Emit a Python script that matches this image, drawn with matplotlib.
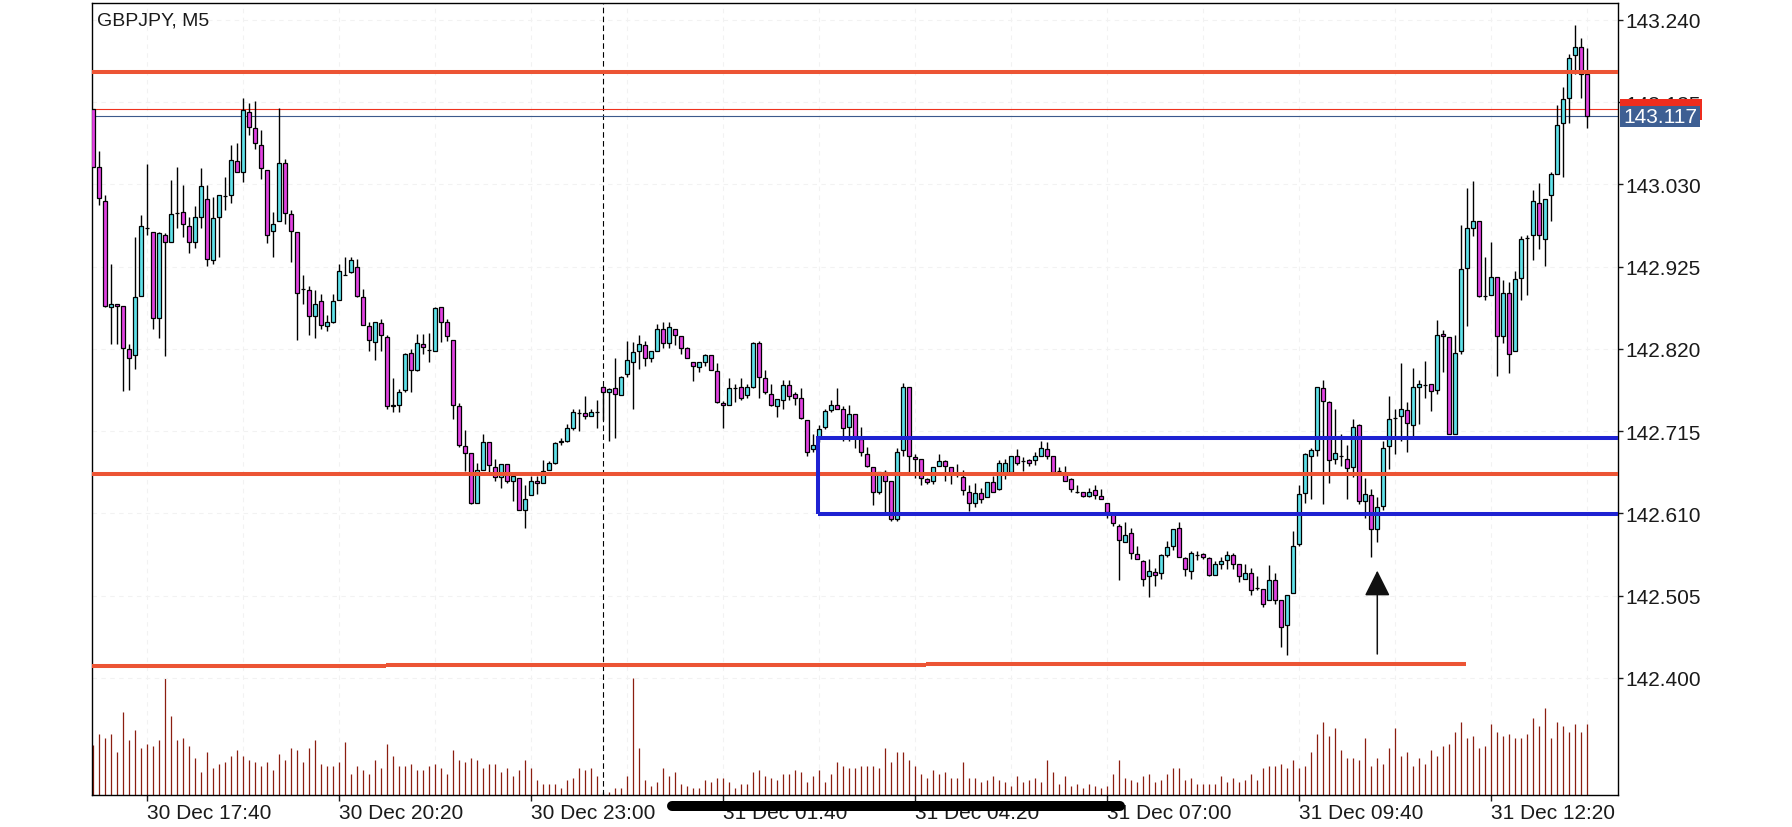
import numpy as np
import pandas as pd
import matplotlib
matplotlib.use("Agg")
import matplotlib.pyplot as plt
from matplotlib.patches import Rectangle
from matplotlib.lines import Line2D

plt.rcParams['font.family'] = ['Liberation Sans', 'DejaVu Sans']

# GBPJPY M5 candles (first bar 30 Dec 16:55)
opens = [
    143.126, 143.052, 143.009, 142.873, 142.877, 142.875, 142.820, 142.812, 142.887, 142.974,
    142.969, 142.859, 142.965, 142.956, 142.993, 142.995, 142.977, 142.957, 142.988, 143.012,
    142.933, 142.989, 143.015, 143.016, 143.060, 143.046, 143.122, 143.102, 143.080, 143.049,
    142.970, 142.984, 143.057, 142.992, 142.969, 142.897, 142.895, 142.862, 142.881, 142.849,
    142.854, 142.883, 142.915, 142.918, 142.925, 142.886, 142.849, 142.829, 142.853, 142.835,
    142.748, 142.749, 142.767, 142.815, 142.793, 142.826, 142.819, 142.818, 142.873, 142.854,
    142.832, 142.747, 142.696, 142.687, 142.624, 142.666, 142.701, 142.669, 142.656, 142.673,
    142.651, 142.655, 142.615, 142.633, 142.651, 142.649, 142.666, 142.675, 142.701, 142.702,
    142.719, 142.738, 142.738, 142.734, 142.739, 142.772, 142.765, 142.770, 142.761, 142.788,
    142.804, 142.818, 142.825, 142.808, 142.818, 142.845, 142.827, 142.845, 142.836, 142.821,
    142.803, 142.797, 142.804, 142.812, 142.792, 142.751, 142.748, 142.770, 142.772, 142.761,
    142.772, 142.827, 142.783, 142.763, 142.747, 142.755, 142.774, 142.762, 142.757, 142.729,
    142.692, 142.706, 142.720, 142.742, 142.748, 142.744, 142.720, 142.737, 142.705, 142.686,
    142.669, 142.637, 142.663, 142.651, 142.603, 142.691, 142.772, 142.682, 142.679, 142.654,
    142.651, 142.670, 142.677, 142.669, 142.661, 142.656, 142.637, 142.623, 142.636, 142.631,
    142.650, 142.641, 142.661, 142.663, 142.683, 142.677, 142.678, 142.678, 142.684, 142.692,
    142.683, 142.664, 142.661, 142.654, 142.638, 142.637, 142.632, 142.640, 142.632, 142.623,
    142.610, 142.594, 142.573, 142.585, 142.558, 142.549, 142.530, 142.535, 142.534, 142.557,
    142.568, 142.591, 142.553, 142.536, 142.557, 142.558, 142.553, 142.531, 142.546, 142.550,
    142.557, 142.545, 142.526, 142.534, 142.515, 142.513, 142.499, 142.525, 142.500, 142.467,
    142.508, 142.571, 142.636, 142.683, 142.691, 142.770, 142.752, 142.679, 142.683, 142.680,
    142.669, 142.723, 142.626, 142.633, 142.590, 142.619, 142.696, 142.732, 142.734, 142.742,
    142.723, 142.771, 142.774, 142.775, 142.767, 142.839, 142.835, 142.711, 142.817, 142.923,
    142.974, 142.983, 142.888, 142.889, 142.912, 142.836, 142.892, 142.817, 142.910, 142.962,
    142.965, 143.006, 142.961, 143.016, 143.044, 143.109, 143.140, 143.195, 143.205, 143.171,
]
highs = [
    143.126, 143.073, 143.016, 142.929, 142.877, 142.875, 142.826, 142.963, 142.991, 143.056,
    142.969, 142.969, 142.968, 143.036, 143.052, 143.029, 142.989, 143.003, 143.051, 143.029,
    143.014, 143.017, 143.040, 143.080, 143.083, 143.140, 143.134, 143.137, 143.100, 143.049,
    142.995, 143.127, 143.063, 142.998, 142.969, 142.915, 142.901, 142.895, 142.890, 142.863,
    142.890, 142.929, 142.937, 142.937, 142.935, 142.897, 142.854, 142.855, 142.858, 142.838,
    142.783, 142.769, 142.815, 142.820, 142.839, 142.839, 142.841, 142.873, 142.873, 142.858,
    142.832, 142.751, 142.716, 142.687, 142.674, 142.711, 142.701, 142.680, 142.673, 142.673,
    142.659, 142.655, 142.646, 142.658, 142.658, 142.678, 142.677, 142.701, 142.706, 142.724,
    142.743, 142.744, 142.760, 142.743, 142.755, 142.773, 142.770, 142.808, 142.786, 142.830,
    142.829, 142.838, 142.830, 142.817, 142.852, 142.854, 142.854, 142.845, 142.836, 142.822,
    142.804, 142.803, 142.813, 142.812, 142.802, 142.753, 142.783, 142.775, 142.783, 142.775,
    142.829, 142.830, 142.793, 142.775, 142.756, 142.780, 142.780, 142.765, 142.770, 142.729,
    142.711, 142.723, 142.744, 142.755, 142.770, 142.747, 142.749, 142.737, 142.721, 142.695,
    142.669, 142.663, 142.666, 142.651, 142.693, 142.776, 142.772, 142.686, 142.680, 142.655,
    142.669, 142.686, 142.678, 142.669, 142.673, 142.665, 142.646, 142.649, 142.643, 142.650,
    142.658, 142.678, 142.680, 142.684, 142.692, 142.682, 142.679, 142.688, 142.703, 142.701,
    142.683, 142.669, 142.670, 142.655, 142.646, 142.638, 142.642, 142.646, 142.641, 142.623,
    142.612, 142.596, 142.599, 142.591, 142.568, 142.550, 142.552, 142.540, 142.558, 142.575,
    142.590, 142.599, 142.554, 142.562, 142.562, 142.560, 142.554, 142.549, 142.555, 142.562,
    142.560, 142.545, 142.545, 142.540, 142.530, 142.513, 142.544, 142.534, 142.500, 142.506,
    142.587, 142.646, 142.687, 142.693, 142.772, 142.780, 142.753, 142.743, 142.712, 142.697,
    142.731, 142.724, 142.655, 142.641, 142.631, 142.702, 142.760, 142.743, 142.802, 142.752,
    142.796, 142.780, 142.805, 142.775, 142.857, 142.844, 142.835, 142.838, 142.978, 143.026,
    143.035, 142.984, 142.938, 142.956, 142.912, 142.908, 142.905, 142.919, 142.964, 142.965,
    143.023, 143.032, 143.011, 143.046, 143.131, 143.154, 143.196, 143.233, 143.217, 143.204,
]
lows = [
    143.052, 143.004, 142.873, 142.826, 142.826, 142.766, 142.767, 142.795, 142.887, 142.966,
    142.846, 142.834, 142.811, 142.956, 142.975, 142.963, 142.942, 142.949, 142.975, 142.926,
    142.929, 142.938, 142.997, 143.006, 143.046, 143.033, 143.093, 143.075, 143.037, 142.955,
    142.938, 142.984, 142.980, 142.931, 142.831, 142.878, 142.838, 142.834, 142.846, 142.843,
    142.853, 142.883, 142.914, 142.917, 142.886, 142.850, 142.817, 142.806, 142.817, 142.744,
    142.740, 142.740, 142.765, 142.765, 142.792, 142.813, 142.803, 142.818, 142.829, 142.830,
    142.730, 142.695, 142.664, 142.622, 142.624, 142.666, 142.663, 142.651, 142.642, 142.649,
    142.626, 142.614, 142.591, 142.633, 142.635, 142.649, 142.665, 142.673, 142.698, 142.701,
    142.716, 142.715, 142.730, 142.734, 142.719, 142.729, 142.702, 142.706, 142.761, 142.784,
    142.744, 142.795, 142.798, 142.803, 142.818, 142.821, 142.821, 142.825, 142.813, 142.808,
    142.779, 142.790, 142.798, 142.793, 142.751, 142.719, 142.748, 142.752, 142.755, 142.758,
    142.770, 142.757, 142.762, 142.747, 142.733, 142.743, 142.755, 142.749, 142.730, 142.683,
    142.688, 142.701, 142.718, 142.739, 142.744, 142.702, 142.702, 142.693, 142.683, 142.669,
    142.621, 142.635, 142.612, 142.600, 142.600, 142.684, 142.663, 142.655, 142.646, 142.647,
    142.647, 142.670, 142.651, 142.647, 142.656, 142.633, 142.613, 142.618, 142.624, 142.631,
    142.637, 142.640, 142.654, 142.663, 142.672, 142.664, 142.670, 142.672, 142.684, 142.680,
    142.663, 142.661, 142.651, 142.637, 142.636, 142.631, 142.631, 142.628, 142.628, 142.604,
    142.594, 142.525, 142.573, 142.552, 142.552, 142.517, 142.503, 142.517, 142.526, 142.554,
    142.564, 142.554, 142.530, 142.526, 142.550, 142.552, 142.530, 142.531, 142.539, 142.539,
    142.539, 142.522, 142.526, 142.506, 142.512, 142.490, 142.499, 142.494, 142.439, 142.429,
    142.508, 142.568, 142.623, 142.629, 142.684, 142.622, 142.649, 142.673, 142.670, 142.629,
    142.656, 142.622, 142.604, 142.554, 142.573, 142.615, 142.667, 142.686, 142.702, 142.688,
    142.709, 142.724, 142.757, 142.741, 142.763, 142.790, 142.711, 142.711, 142.813, 142.849,
    142.964, 142.886, 142.883, 142.889, 142.785, 142.827, 142.789, 142.817, 142.882, 142.889,
    142.933, 142.947, 142.926, 142.983, 143.044, 143.039, 143.108, 143.171, 143.140, 143.102,
]
closes = [
    143.052, 143.013, 142.875, 142.878, 142.875, 142.821, 142.809, 142.886, 142.977, 142.974,
    142.859, 142.968, 142.956, 142.992, 142.993, 142.979, 142.956, 142.988, 143.028, 142.935,
    142.987, 143.017, 143.015, 143.061, 143.046, 143.125, 143.103, 143.083, 143.051, 142.966,
    142.980, 143.057, 142.993, 142.970, 142.892, 142.897, 142.862, 142.877, 142.850, 142.854,
    142.881, 142.920, 142.915, 142.933, 142.887, 142.850, 142.831, 142.854, 142.838, 142.747,
    142.747, 142.765, 142.813, 142.793, 142.827, 142.822, 142.819, 142.872, 142.855, 142.836,
    142.748, 142.697, 142.687, 142.623, 142.665, 142.701, 142.672, 142.656, 142.673, 142.652,
    142.658, 142.614, 142.629, 142.652, 142.649, 142.664, 142.675, 142.700, 142.703, 142.719,
    142.740, 142.738, 142.734, 142.739, 142.739, 142.765, 142.769, 142.762, 142.784, 142.806,
    142.816, 142.826, 142.808, 142.817, 142.846, 142.827, 142.848, 142.838, 142.821, 142.808,
    142.798, 142.803, 142.812, 142.793, 142.752, 142.748, 142.770, 142.770, 142.758, 142.771,
    142.827, 142.784, 142.765, 142.748, 142.756, 142.774, 142.760, 142.758, 142.732, 142.689,
    142.697, 142.718, 142.741, 142.748, 142.744, 142.719, 142.737, 142.706, 142.688, 142.670,
    142.637, 142.663, 142.651, 142.603, 142.689, 142.772, 142.684, 142.679, 142.655, 142.650,
    142.669, 142.677, 142.670, 142.661, 142.661, 142.640, 142.623, 142.636, 142.628, 142.650,
    142.638, 142.674, 142.675, 142.683, 142.674, 142.677, 142.674, 142.683, 142.693, 142.683,
    142.663, 142.664, 142.652, 142.641, 142.638, 142.632, 142.638, 142.633, 142.628, 142.612,
    142.598, 142.576, 142.582, 142.559, 142.552, 142.526, 142.536, 142.531, 142.557, 142.567,
    142.590, 142.555, 142.539, 142.559, 142.557, 142.554, 142.531, 142.545, 142.549, 142.557,
    142.546, 142.530, 142.534, 142.512, 142.515, 142.494, 142.525, 142.500, 142.465, 142.506,
    142.568, 142.635, 142.686, 142.691, 142.772, 142.753, 142.678, 142.687, 142.683, 142.668,
    142.721, 142.626, 142.635, 142.590, 142.618, 142.693, 142.731, 142.732, 142.743, 142.725,
    142.771, 142.775, 142.774, 142.766, 142.838, 142.836, 142.711, 142.815, 142.922, 142.975,
    142.983, 142.887, 142.888, 142.912, 142.836, 142.891, 142.813, 142.909, 142.961, 142.962,
    143.009, 142.966, 143.011, 143.044, 143.106, 143.139, 143.192, 143.205, 143.171, 143.118,
]
# tick volume, one per candle
volumes = [
    50, 61, 57, 61, 43, 83, 55, 65, 47, 51, 49, 55, 117, 79, 55, 57, 49, 37, 23, 43,
    27, 31, 33, 39, 45, 39, 35, 33, 29, 33, 25, 41, 35, 47, 45, 33, 47, 55, 31, 29,
    29, 33, 53, 21, 29, 25, 21, 35, 27, 51, 39, 29, 29, 31, 25, 25, 29, 31, 27, 21,
    45, 35, 33, 37, 35, 27, 31, 31, 23, 27, 19, 25, 35, 27, 15, 11, 11, 11, 7, 15,
    17, 27, 25, 27, 19, 3, 3, 7, 7, 19, 117, 47, 15, 9, 13, 27, 19, 23, 11, 9,
    7, 7, 15, 13, 17, 17, 13, 7, 11, 11, 23, 25, 19, 17, 15, 21, 21, 25, 23, 13,
    19, 25, 13, 21, 33, 29, 27, 27, 29, 29, 29, 27, 47, 33, 43, 43, 35, 29, 21, 17,
    25, 21, 23, 17, 17, 33, 17, 17, 13, 15, 19, 15, 13, 9, 19, 13, 15, 17, 13, 35,
    23, 11, 19, 9, 11, 7, 11, 9, 7, 9, 21, 35, 17, 15, 13, 19, 21, 13, 15, 21,
    27, 27, 15, 17, 11, 11, 11, 11, 19, 13, 17, 13, 15, 21, 15, 27, 29, 29, 31, 27,
    35, 27, 29, 43, 61, 73, 59, 67, 45, 37, 37, 35, 57, 29, 37, 31, 47, 67, 39, 43,
    29, 37, 31, 45, 39, 49, 51, 63, 73, 57, 59, 47, 49, 71, 63, 59, 61, 57, 57, 61,
    77, 69, 87, 57, 73, 69, 63, 71, 63, 71,
]

time_labels = ['30 Dec 17:40', '30 Dec 20:20', '30 Dec 23:00', '31 Dec 01:40',
               '31 Dec 04:20', '31 Dec 07:00', '31 Dec 09:40', '31 Dec 12:20']
price_ticks = [143.240, 143.135, 143.030, 142.925, 142.820, 142.715, 142.610, 142.505, 142.400]

symbol = 'GBPJPY, M5'
bid = 143.117
ask = 143.126
resistance = 143.174
pivot = 142.661
support = [142.4153, 142.4166, 142.4178]
support_from = [-1, 48.7, 138.8]
support_to = [48.7, 138.8, 228.8]
range_left = 120.8
range_low = 142.6094
range_high = 142.7064
arrow_bar = 214
arrow_from = 142.4306
arrow_to = 142.537

times = pd.date_range('2019-12-30 16:55', periods=len(opens), freq='5min')
stamp = list(times.strftime('%d %b %H:%M'))
tick_idx = [stamp.index(t) for t in time_labels]
day_sep = [i for i, t in enumerate(times) if t.hour == 0 and t.minute == 0]

o = np.array(opens)
h = np.array(highs)
l = np.array(lows)
c = np.array(closes)
x = np.arange(len(o))
up = c >= o

ORANGE = '#ec5434'
BLUE = '#1e22d2'
BULL = '#5fe2ea'
BEAR = '#e243e2'

fig = plt.figure(figsize=(17.92, 8.28), dpi=100)
ax = fig.add_axes([92.3 / 1792, 1 - 796 / 828, 1526 / 1792, 791.7 / 828])
axv = ax.twinx()
ax.set_zorder(axv.get_zorder() + 1)
ax.patch.set_visible(False)

ymin, ymax = 142.2506, 143.2613
ax.set_xlim(-0.17, 254.17)
ax.set_ylim(ymin, ymax)
ppx = (ymax - ymin) / 791.7

# faint grid, kept under everything
for gx in range(tick_idx[0] % 16, 255, 16):
    axv.axvline(gx, color='#f2f2f2', lw=0.8, ls=(0, (4, 4)), zorder=0.5)
for p in price_ticks:
    ax.axhline(p, color='#f2f2f2', lw=0.8, ls=(0, (4, 4)), zorder=0.5)

# volume at the bottom, one unit = one pixel
axv.vlines(x, 0, volumes, color='#8b1e10', lw=0.9, zorder=2)
axv.set_ylim(0, 791.7)
axv.set_yticks([])
for s in axv.spines.values():
    s.set_visible(False)

for d in day_sep:
    ax.axvline(d, color='black', lw=0.8, ls=(0, (5, 3)), zorder=1)

ax.axhline(ask, color='#f0321e', lw=0.8, zorder=2)
ax.axhline(bid, color='#3c5a8c', lw=0.8, zorder=2)

# candles
ax.vlines(x, l, h, color='black', lw=1.0, zorder=3)
ax.bar(x[up], (c - o)[up], bottom=o[up], width=0.62, color=BULL,
       edgecolor='black', lw=0.9, zorder=4)
ax.bar(x[~up], (c - o)[~up], bottom=o[~up], width=0.62, color=BEAR,
       edgecolor='black', lw=0.9, zorder=4)

# drawn levels
ax.axhline(resistance, color=ORANGE, lw=2.9, zorder=5)
ax.axhline(pivot, color=ORANGE, lw=2.9, zorder=5)
ax.hlines(support, support_from, support_to, color=ORANGE, lw=2.9, zorder=5)
ax.add_patch(Rectangle((range_left, range_low), 400, range_high - range_low,
                       fill=False, edgecolor=BLUE, lw=2.9, zorder=5))
ax.annotate('', xy=(arrow_bar, arrow_to), xytext=(arrow_bar, arrow_from),
            arrowprops=dict(arrowstyle='-|>,head_length=0.4,head_width=0.2',
                            color='#111111', lw=1.1, mutation_scale=40,
                            shrinkA=0, shrinkB=0), zorder=6)

# axes styling
ax.yaxis.tick_right()
ax.set_yticks(price_ticks)
ax.set_yticklabels(['%.3f' % p for p in price_ticks])
ax.set_xticks(tick_idx)
ax.set_xticklabels(time_labels, ha='left')
ax.tick_params(axis='y', length=3.5, width=1, pad=1.5, labelsize=15, colors='#1a1a1a')
ax.tick_params(axis='x', length=4, width=1, pad=2, labelsize=15, colors='#1a1a1a')
for s in ax.spines.values():
    s.set_linewidth(1.0)
    s.set_color('black')

# price labels on the right
yt = ax.get_yaxis_transform()
ax.add_patch(Rectangle((1.0011, ask - 10.5 * ppx), 0.0535, 21 * ppx, transform=yt,
                       clip_on=False, facecolor='#ee2d1e', edgecolor='none', zorder=2.4))
ax.add_patch(Rectangle((1.0011, bid - 10.5 * ppx), 0.0524, 21 * ppx, transform=yt,
                       clip_on=False, facecolor='#3e5f93', edgecolor='none', zorder=3))
ax.text(1.0036, bid, '%.3f' % bid, transform=yt, color='white', fontsize=15,
        va='center', ha='left', zorder=3.1, clip_on=False)

fig.text(96.5 / 1792, 1 - 26 / 828, symbol, fontsize=14, va='baseline', color='#1a1a1a')

# scrollbar overlay at the bottom
fig.add_artist(Line2D([672 / 1792, 1120 / 1792], [1 - 807 / 828] * 2, lw=7.2,
                      color='black', solid_capstyle='round', transform=fig.transFigure))

fig.savefig('out.png', dpi=100, facecolor='white')
